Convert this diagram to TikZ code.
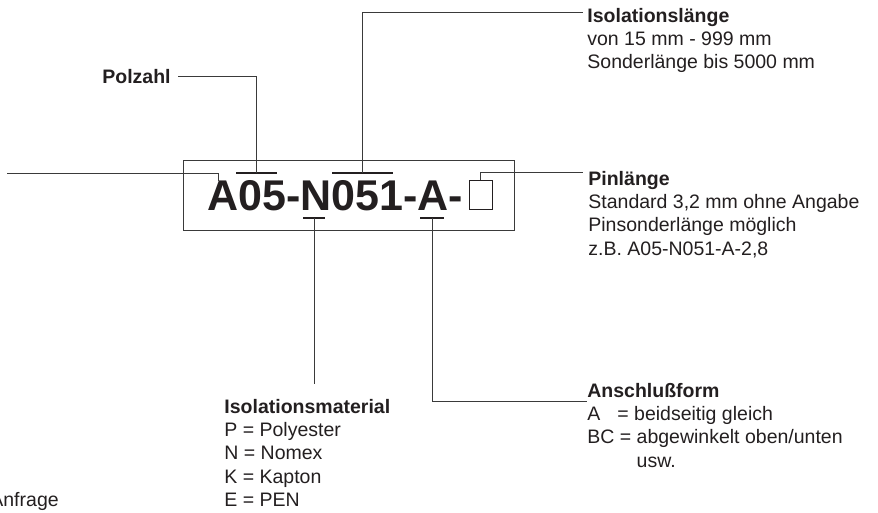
\documentclass[tikz,border=0pt]{standalone}
\usepackage{fontspec}
\setmainfont{Liberation Sans}
\usetikzlibrary{positioning, calc}
\definecolor{cink}{HTML}{231F20}
\definecolor{cline}{HTML}{3A3A3A}
\tikzset{
  every picture/.style={line width=0.8pt},
  lbl/.style={anchor=base west, inner sep=0pt, align=left, text=cink, font=\fontsize{19.5}{23.4}\selectfont},
  lead/.style={draw=cline, line width=0.8pt},
  bar/.style={draw=cink, line width=1.1pt},
}

\begin{document}
\begin{tikzpicture}[x=1pt, y=-1pt]
  \clip (0,0) rectangle (878,512);
  \fill[white] (0,0) rectangle (878,512);
  % type code in its frame
  \node[anchor=base west, inner sep=0pt, text=cink, font=\fontsize{43}{43}\selectfont\bfseries] (code) at (207,210) {A05-N051-A-};
  \node[draw=cink, line width=0.9pt, minimum width=23pt, minimum height=29pt, inner sep=0pt] (pinbox) at (480.5,194.5) {};
  \draw[lead] (183,160) rectangle (514,230);
  \foreach \nm/\cx/\cy/\hw in {polbar/256.5/173/20.5, lenbar/362.5/173/30.5, matbar/314/218/11, conbar/432/218/12} {
    \coordinate (\nm) at (\cx,\cy);
    \draw[bar] ([xshift=-\hw pt]\nm) -- ([xshift=\hw pt]\nm);
  }
  \coordinate (leftend) at (7,173);
  \coordinate (leftpin) at (218,181);

  % labels (base = last line)
  \node[lbl, font=\fontsize{19.5}{23.4}\selectfont\bfseries] (polzahl) at (102,83) {Polzahl};
  \node[lbl] (isolen) at (587,68.8) {\textbf{Isolationslänge}\\von 15 mm - 999 mm\\Sonderlänge bis 5000 mm};
  \node[lbl] (pinlen) at (588,255.2) {\textbf{Pinlänge}\\Standard 3,2 mm ohne Angabe\\Pinsonderlänge möglich\\z.B. A05-N051-A-2,8};
  \node[lbl] (isomat) at (224,506.6) {\textbf{Isolationsmaterial}\\P = Polyester\\N = Nomex\\K = Kapton\\E = PEN};
  \node[lbl] (conform) at (587,467.2) {\textbf{Anschlußform}\\A\hspace{17pt}= beidseitig gleich\\BC = abgewinkelt oben/unten\\\hphantom{BC = }usw.};
  \node[lbl] (anfrage) at (-10,506) {Anfrage};

  % leader lines
  \draw[lead] (leftend) -| (leftpin);
  \draw[lead] ([xshift=7pt]polzahl.east) -| (polbar);
  \draw[lead] (lenbar) |- ([xshift=-4pt, yshift=-5pt]isolen.north west);
  \draw[lead] (pinbox.north) |- ([xshift=-5pt, yshift=-2pt]pinlen.north west);
  \draw[lead] (matbar) -- ($(matbar |- isomat.north)+(0,-14)$);
  \draw[lead] (conbar) |- ([yshift=-19pt]conform.north west);
\end{tikzpicture}
\end{document}
